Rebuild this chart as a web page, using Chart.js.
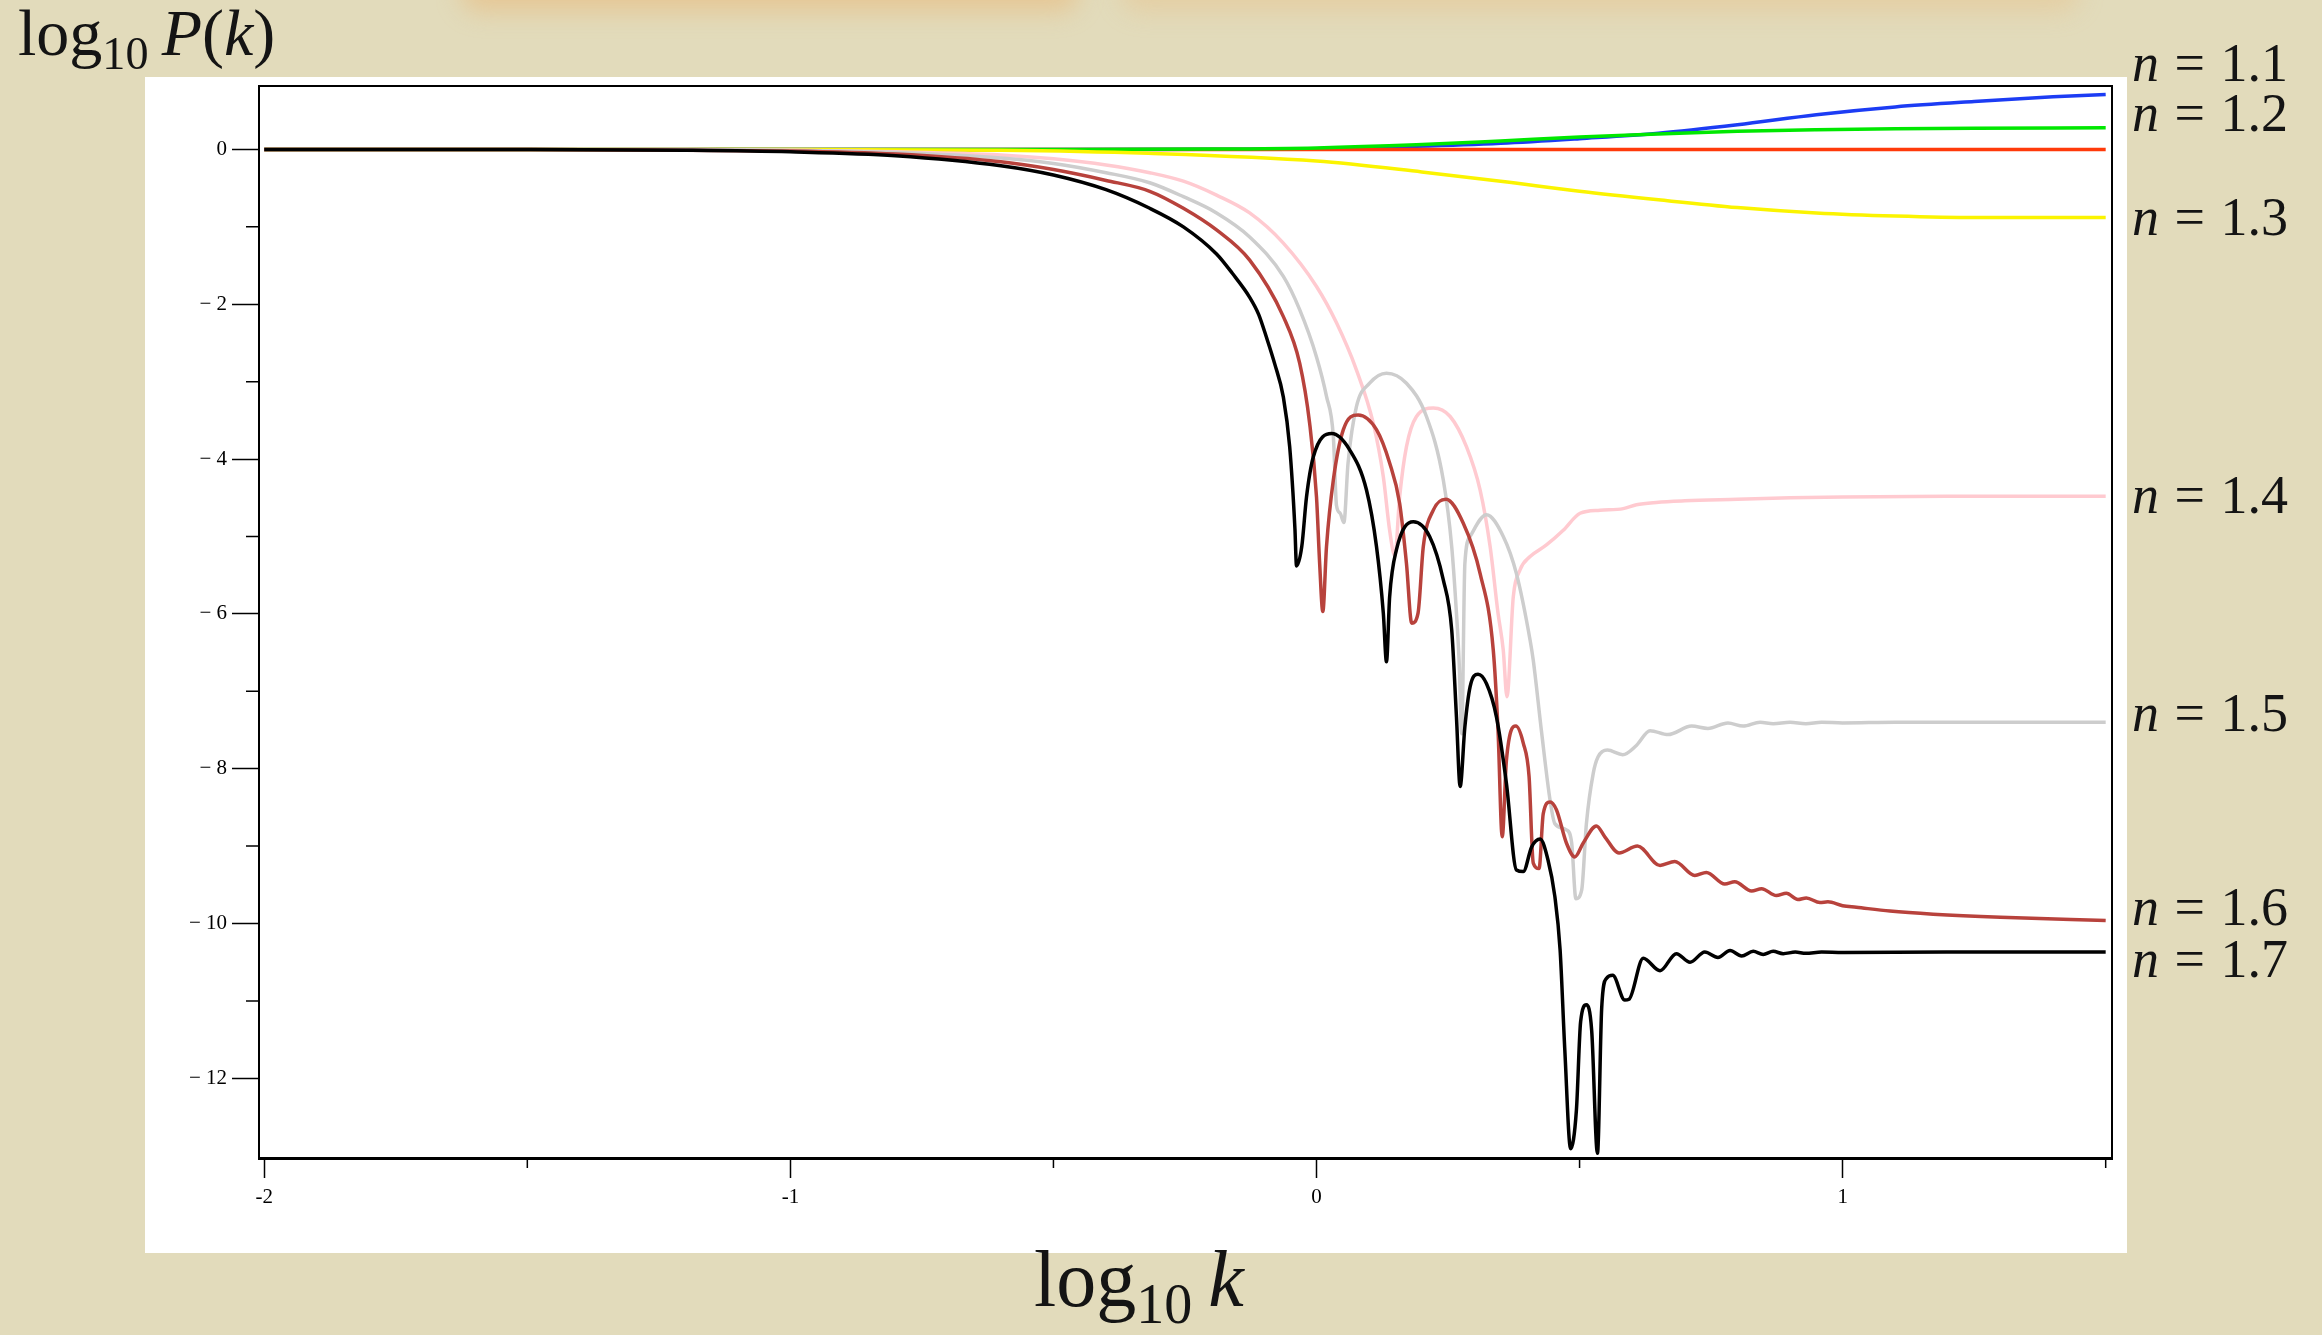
<!DOCTYPE html>
<html lang="en">
<head>
<meta charset="utf-8">
<title>log10 P(k)</title>
<script src="https://cdn.jsdelivr.net/npm/chart.js@4.4.1/dist/chart.umd.min.js"></script>
<style>
  html, body { margin: 0; padding: 0; }
  body {
    width: 2322px; height: 1335px; position: relative; overflow: hidden;
    background: #e2dbbb;
    font-family: "Liberation Serif", "DejaVu Serif", serif;
  }
  .glow { position: absolute; top: -30px; height: 42px; background: rgba(236, 168, 90, 0.38); filter: blur(12px); border-radius: 22px; }
  #panel { position: absolute; left: 145px; top: 77px; width: 1982px; height: 1176px; background: #fff; }
  #plot { position: absolute; left: 0; top: 0; }
  .tex { position: absolute; line-height: 1.2; color: #141414; white-space: nowrap; }
  .tex sub { font-size: 0.7em; vertical-align: baseline; position: relative; top: 0.3em; }
</style>
</head>
<body>
<div class="glow" style="left:460px; width:620px"></div>
<div class="glow" style="left:1120px; width:960px; background: rgba(236, 175, 105, 0.28)"></div>
<div id="panel"></div>
<canvas id="plot" width="2322" height="1335"></canvas>
<div class="tex" style="left:18px; top:-7px; font-size:66px">log<sub>10</sub>&#8201;<i>P</i>(<i>k</i>)</div>
<div class="tex" style="left:1139px; top:1231px; font-size:80px; transform:translateX(-50%)">log<sub>10</sub>&#8201;<i>k</i></div>
<div id="labels"></div>
<script>
// log10 k positions and log10 P(k) values, one pair per curve
const k11 = [-2, -1, -0.5, -0.2, 0, 0.19, 0.35, 0.5, 0.65, 0.8, 0.95, 1.1, 1.25, 1.4, 1.5]
const p11 = [0, 0, 0, 0.003, 0.01, 0.04, 0.08, 0.14, 0.21, 0.32, 0.45, 0.55, 0.62, 0.68, 0.71]

const k12 = [-2, -1, -0.5, -0.2, 0, 0.19, 0.35, 0.5, 0.65, 0.8, 0.95, 1.1, 1.25, 1.5]
const p12 = [0, 0, 0, 0.005, 0.02, 0.06, 0.11, 0.16, 0.2, 0.235, 0.255, 0.268, 0.275, 0.28]

const kRef = [-2, -1, 0, 1, 1.5]
const pRef = [0, 0, 0, 0, 0]

const k13 = [-2, -1, -0.6, -0.32, 0, 0.2, 0.35, 0.5, 0.65, 0.8, 0.95, 1.1, 1.25, 1.5]
const p13 = [0, 0, -0.01, -0.05, -0.15, -0.29, -0.41, -0.54, -0.65, -0.75, -0.82, -0.86, -0.88, -0.88]

const k14 = [-2, -1.2, -1.0, -0.8, -0.6, -0.5, -0.4, -0.317, -0.253, -0.19, -0.127, -0.063, 0, 0.038, 0.076, 0.108,
  0.127, 0.139, 0.149, 0.158, 0.171, 0.19, 0.222, 0.254, 0.285, 0.311, 0.33, 0.345, 0.355, 0.362, 0.374, 0.387,
  0.406, 0.437, 0.469, 0.501, 0.539, 0.583, 0.608, 0.646, 0.7, 0.8, 0.9, 1.0, 1.2, 1.5]
const p14 = [0, 0, -0.01, -0.03, -0.07, -0.12, -0.2, -0.3, -0.41, -0.59, -0.82, -1.21, -1.77, -2.24, -2.85, -3.54,
  -4.23, -4.92, -5.25, -4.49, -3.84, -3.45, -3.34, -3.45, -3.84, -4.4, -5.13, -5.99, -6.47, -7.07, -5.78, -5.43,
  -5.26, -5.11, -4.92, -4.7, -4.66, -4.64, -4.59, -4.56, -4.54, -4.52, -4.5, -4.49, -4.48, -4.48]

const k15 = [-2, -1.2, -1.0, -0.8, -0.6, -0.5, -0.4, -0.317, -0.253, -0.19, -0.127, -0.063, -0.032, 0, 0.019, 0.032,
  0.038, 0.045, 0.052, 0.06, 0.076, 0.101, 0.133, 0.171, 0.209, 0.241, 0.257, 0.266, 0.271, 0.276, 0.282, 0.292,
  0.323, 0.355, 0.38, 0.406, 0.412, 0.428, 0.444, 0.453, 0.475, 0.485, 0.493, 0.504, 0.513, 0.526, 0.535, 0.553,
  0.582, 0.608, 0.634, 0.668, 0.713, 0.744, 0.782, 0.811, 0.843, 0.868, 0.9, 0.93, 0.96, 1.0, 1.1, 1.5]
const p15 = [0, 0, -0.01, -0.04, -0.11, -0.18, -0.3, -0.43, -0.61, -0.82, -1.13, -1.64, -2.07, -2.68, -3.19, -3.71,
  -4.6, -4.7, -4.82, -4.05, -3.32, -3.02, -2.89, -3.02, -3.45, -4.27, -5.13, -5.99, -6.6, -7.55, -5.35, -5.0,
  -4.72, -5.0, -5.48, -6.34, -6.6, -7.54, -8.41, -8.71, -8.79, -8.96, -9.68, -9.57, -8.71, -8.06, -7.85, -7.76,
  -7.82, -7.7, -7.51, -7.56, -7.45, -7.48, -7.41, -7.45, -7.4, -7.42, -7.4, -7.42, -7.4, -7.41, -7.4, -7.4]

const k16 = [-2, -1.5, -1.2, -1.0, -0.8, -0.6, -0.5, -0.4, -0.317, -0.253, -0.19, -0.127, -0.063, -0.032, -0.013, 0,
  0.006, 0.012, 0.019, 0.032, 0.051, 0.079, 0.114, 0.139, 0.158, 0.171, 0.181, 0.193, 0.203, 0.222, 0.246, 0.279,
  0.311, 0.336, 0.345, 0.353, 0.361, 0.379, 0.393, 0.404, 0.412, 0.423, 0.431, 0.444, 0.456, 0.475, 0.491, 0.507,
  0.532, 0.548, 0.575, 0.61, 0.653, 0.681, 0.719, 0.741, 0.776, 0.795, 0.827, 0.846, 0.874, 0.893, 0.915, 0.931,
  0.957, 0.972, 1.0, 1.026, 1.09, 1.172, 1.3, 1.5]
const p16 = [0, 0, -0.01, -0.02, -0.06, -0.16, -0.26, -0.4, -0.54, -0.76, -1.04, -1.43, -2.16, -2.76, -3.54, -4.49,
  -5.35, -5.97, -5.13, -4.27, -3.62, -3.43, -3.62, -4.05, -4.57, -5.35, -6.12, -5.99, -5.13, -4.66, -4.52, -4.83,
  -5.48, -6.47, -7.5, -8.88, -7.89, -7.45, -7.67, -8.1, -9.22, -9.29, -8.58, -8.43, -8.53, -8.96, -9.14, -8.96,
  -8.74, -8.88, -9.09, -9.0, -9.25, -9.2, -9.38, -9.34, -9.49, -9.46, -9.58, -9.55, -9.64, -9.61, -9.69, -9.67,
  -9.73, -9.72, -9.77, -9.79, -9.84, -9.88, -9.92, -9.96]

const k17 = [-2, -1.5, -1.2, -1.0, -0.8, -0.6, -0.5, -0.4, -0.317, -0.253, -0.19, -0.16, -0.127, -0.11, -0.095, -0.079,
  -0.063, -0.051, -0.041, -0.038, -0.028, -0.019, -0.006, 0.029, 0.063, 0.095, 0.114, 0.127, 0.133, 0.139, 0.152,
  0.184, 0.215, 0.241, 0.257, 0.266, 0.273, 0.282, 0.292, 0.307, 0.323, 0.342, 0.361, 0.38, 0.393, 0.409, 0.425,
  0.44, 0.453, 0.463, 0.472, 0.483, 0.494, 0.502, 0.513, 0.523, 0.534, 0.542, 0.551, 0.563, 0.586, 0.594, 0.621,
  0.653, 0.684, 0.71, 0.738, 0.763, 0.786, 0.808, 0.83, 0.849, 0.868, 0.887, 0.91, 0.93, 0.96, 1.0, 1.2, 1.5]
const p17 = [0, 0, -0.01, -0.03, -0.08, -0.21, -0.33, -0.52, -0.76, -1.0, -1.35, -1.6, -1.91, -2.13, -2.43, -2.78,
  -3.2, -3.84, -4.9, -5.38, -5.13, -4.49, -3.97, -3.67, -3.88, -4.4, -5.13, -5.99, -6.62, -5.78, -5.17,
  -4.81, -5.0, -5.56, -6.21, -7.33, -8.23, -7.46, -6.94, -6.78, -6.9, -7.33, -8.19, -9.31, -9.33, -9.01, -8.91,
  -9.18, -9.65, -10.34, -11.64, -12.91, -12.41, -11.27, -11.05, -11.38, -12.97, -11.1, -10.71, -10.67, -10.99, -10.98, -10.45,
  -10.61, -10.39, -10.5, -10.37, -10.44, -10.35, -10.42, -10.36, -10.4, -10.36, -10.39, -10.37, -10.385, -10.37, -10.375, -10.37, -10.37]

const nValues = ["1.1", "1.2", "1.3", "1.4", "1.5", "1.6", "1.7"]
const xMajorTicks = [-2, -1, 0, 1]
const xMinorTicks = [-1.5, -0.5, 0.5, 1.5]
const yMajorTicks = [-12, -10, -8, -6, -4, -2, 0]
const yMinorTicks = [-11, -9, -7, -5, -3, -1]

// label baselines (px) beside the right edge of the frame
const labelBaselines = [82, 132, 236, 514, 732, 926, 978]

const curves = [
  { k: k17, p: p17, color: "#000000", order: 0 },
  { k: k16, p: p16, color: "#b8423c", order: 1 },
  { k: k15, p: p15, color: "#cdcdcd", order: 2 },
  { k: k14, p: p14, color: "#ffcad0", order: 3 },
  { k: k13, p: p13, color: "#fbf400", order: 4 },
  { k: k12, p: p12, color: "#00e800", order: 5 },
  { k: kRef, p: pRef, color: "#ff3a0a", order: 6 },
  { k: k11, p: p11, color: "#1c3cf4", order: 7 }
]

const labels = document.getElementById("labels")
nValues.forEach((n, i) => {
  const div = document.createElement("div")
  div.className = "tex"
  div.style.fontSize = "54px"
  div.style.left = "2132px"
  div.style.top = (labelBaselines[i] - 0.9375 * 54) + "px"
  div.style.wordSpacing = "2px"
  div.innerHTML = `<i>n</i> = ${n}`
  labels.appendChild(div)
})

const tickFont = { family: "Liberation Serif", size: 21 }

// closes the frame on top/right and adds the short minor ticks
const frame = {
  id: "frame",
  afterDraw(chart) {
    const { ctx, chartArea: a, scales: { x, y } } = chart
    ctx.save()
    ctx.strokeStyle = "#000"
    ctx.lineWidth = 2
    ctx.beginPath()
    ctx.moveTo(a.left, a.top)
    ctx.lineTo(a.right, a.top)
    ctx.lineTo(a.right, a.bottom)
    ctx.stroke()
    ctx.lineWidth = 1.5
    ctx.beginPath()
    yMinorTicks.forEach((v) => {
      const py = y.getPixelForValue(v)
      ctx.moveTo(a.left - 13, py)
      ctx.lineTo(a.left, py)
    })
    xMinorTicks.forEach((v) => {
      const px = x.getPixelForValue(v)
      ctx.moveTo(px, a.bottom)
      ctx.lineTo(px, a.bottom + 10)
    })
    ctx.stroke()
    ctx.restore()
  }
}

new Chart(document.getElementById("plot"), {
  type: "line",
  data: {
    datasets: curves.map((c) => ({
      data: c.k.map((k, i) => ({ x: k, y: c.p[i] })),
      borderColor: c.color,
      borderWidth: 3.5,
      pointRadius: 0,
      fill: false,
      cubicInterpolationMode: "monotone",
      order: c.order
    }))
  },
  options: {
    responsive: false,
    devicePixelRatio: 1,
    animation: false,
    layout: { padding: { left: 159, right: 210, top: 86, bottom: 107 } },
    plugins: { legend: { display: false }, tooltip: { enabled: false } },
    scales: {
      x: {
        type: "linear",
        min: -2.01,
        max: 1.512,
        afterBuildTicks: (s) => { s.ticks = xMajorTicks.map((v) => ({ value: v })) },
        afterFit: (s) => { s.height = 70; s.paddingLeft = 0; s.paddingRight = 0 },
        grid: { drawOnChartArea: false, tickLength: 20, tickColor: "#000", tickWidth: 1.5 },
        border: { color: "#000", width: 3 },
        ticks: {
          autoSkip: false, maxRotation: 0, padding: 7, color: "#000", font: tickFont,
          callback: (v) => (v < 0 ? "-" + Math.abs(v) : String(v))
        }
      },
      y: {
        type: "linear",
        min: -13.03,
        max: 0.82,
        afterBuildTicks: (s) => { s.ticks = yMajorTicks.map((v) => ({ value: v })) },
        afterFit: (s) => { s.width = 100; s.paddingTop = 0; s.paddingBottom = 0 },
        grid: { drawOnChartArea: false, tickLength: 27, tickColor: "#000", tickWidth: 1.5 },
        border: { color: "#000", width: 2 },
        ticks: {
          autoSkip: false, padding: 5, color: "#000", font: tickFont,
          callback: (v) => (v === 0 ? "0" : "\u2212 " + Math.abs(v))
        }
      }
    }
  },
  plugins: [frame]
})
</script>
</body>
</html>
